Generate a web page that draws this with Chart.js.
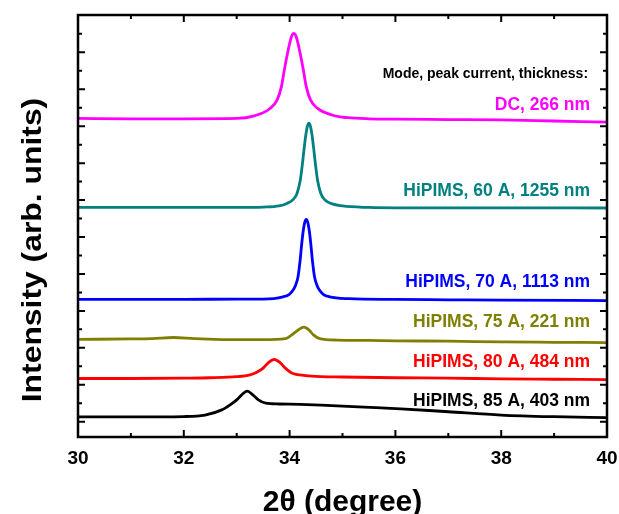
<!DOCTYPE html>
<html>
<head>
    <title>XRD patterns</title>
    <script src="https://cdn.jsdelivr.net/npm/chart.js@4.4.0/dist/chart.umd.min.js"></script>
    <style>
        body { margin: 0; background: #fff; }
    </style>
</head>
<body>
    <canvas id="xrd-chart" width="619" height="514"></canvas>

    <script>
        // 2theta (degree) / intensity (arb. units, curves stacked with offsets)
        var dcX = [30, 31, 32, 33, 33.33, 33.63, 33.765, 33.845, 33.9, 33.96, 34.02, 34.05, 34.08, 34.11, 34.14, 34.2, 34.26, 34.315, 34.395, 34.53, 34.83, 35.1, 35.5, 36, 37, 38, 39, 40];
        var dcY = [8.21, 8.20, 8.20, 8.21, 8.28, 8.48, 8.71, 9.07, 9.52, 9.97, 10.35, 10.47, 10.51, 10.47, 10.35, 9.97, 9.52, 9.07, 8.71, 8.48, 8.29, 8.23, 8.20, 8.19, 8.18, 8.17, 8.14, 8.11];

        var h60X = [30, 32, 33, 33.5, 33.8, 33.95, 34.07, 34.14, 34.2, 34.24, 34.275, 34.305, 34.335, 34.365, 34.395, 34.425, 34.455, 34.49, 34.53, 34.59, 34.67, 34.78, 35.0, 35.5, 36, 38, 40];
        var h60Y = [5.80, 5.80, 5.80, 5.81, 5.84, 5.91, 6.02, 6.18, 6.52, 6.95, 7.40, 7.75, 7.99, 8.08, 7.99, 7.75, 7.40, 6.95, 6.52, 6.18, 6.00, 5.91, 5.84, 5.80, 5.79, 5.79, 5.785];

        var h70X = [30, 32, 33, 33.5, 33.875, 33.995, 34.07, 34.115, 34.16, 34.2, 34.23, 34.26, 34.285, 34.315, 34.345, 34.37, 34.4, 34.43, 34.47, 34.515, 34.56, 34.635, 34.755, 35.115, 36, 37, 38, 40];
        var h70Y = [3.31, 3.31, 3.32, 3.32, 3.38, 3.45, 3.57, 3.70, 3.93, 4.38, 4.83, 5.19, 5.39, 5.48, 5.39, 5.19, 4.83, 4.38, 3.93, 3.70, 3.57, 3.45, 3.38, 3.33, 3.31, 3.30, 3.29, 3.28];

        var h75X = [30, 31, 31.4, 31.8, 32.2, 32.6, 33, 33.5, 33.92, 34.04, 34.16, 34.27, 34.37, 34.45, 34.57, 34.9, 35.5, 36, 37, 38, 39, 40];
        var h75Y = [2.23, 2.24, 2.25, 2.28, 2.25, 2.23, 2.22, 2.22, 2.25, 2.35, 2.48, 2.56, 2.48, 2.35, 2.25, 2.21, 2.20, 2.19, 2.18, 2.16, 2.15, 2.14];

        var h80X = [30, 31, 32, 32.5, 33, 33.25, 33.38, 33.5, 33.6, 33.71, 33.82, 33.92, 34.04, 34.3, 34.6, 35, 36, 37, 38, 39, 40];
        var h80Y = [1.17, 1.17, 1.18, 1.19, 1.22, 1.27, 1.34, 1.45, 1.60, 1.69, 1.60, 1.45, 1.32, 1.25, 1.22, 1.21, 1.19, 1.18, 1.16, 1.15, 1.14];

        var h85X = [30, 31, 32, 32.4, 32.72, 32.87, 33.0, 33.09, 33.2, 33.31, 33.41, 33.55, 33.8, 34.2, 34.6, 35.3, 36.1, 37, 38, 39, 40];
        var h85Y = [0.13, 0.13, 0.14, 0.18, 0.32, 0.45, 0.59, 0.72, 0.83, 0.72, 0.59, 0.50, 0.48, 0.47, 0.45, 0.40, 0.35, 0.27, 0.18, 0.135, 0.11];

        var seriesNames = ['DC, 266 nm', 'HiPIMS, 60 A, 1255 nm', 'HiPIMS, 70 A, 1113 nm', 'HiPIMS, 75 A, 221 nm', 'HiPIMS, 80 A, 484 nm', 'HiPIMS, 85 A, 403 nm'];
        var seriesColors = ['#ff00ff', '#008080', '#0000ff', '#808000', '#ff0000', '#000000'];
        var seriesX = [dcX, h60X, h70X, h75X, h80X, h85X];
        var seriesY = [dcY, h60Y, h70Y, h75Y, h80Y, h85Y];

        var xMajor = [30, 32, 34, 36, 38, 40];
        var xMinor = [31, 33, 35, 37, 39];
        var yMajor = [0, 1, 2, 3, 4, 5, 6, 7, 8, 9, 10];
        var yMinor = [0.5, 1.5, 2.5, 3.5, 4.5, 5.5, 6.5, 7.5, 8.5, 9.5, 10.5];

        // where the curve labels sit (right aligned)
        var labelHeader = 'Mode, peak current, thickness:';
        var labelX = 39.68;
        var headerY = 9.30;
        var labelY = [8.44, 6.10, 3.655, 2.572, 1.473, 0.425];
        var yTitle = 'Intensity (arb. units)';

        var FONT = '"Liberation Sans", Arial, Helvetica, sans-serif';
        Chart.defaults.font.family = FONT;
        Chart.defaults.color = '#000';

        function toPoints(xs, ys) {
            var pts = [];
            for (var i = 0; i < xs.length; i++) pts.push({ x: xs[i], y: ys[i] });
            return pts;
        }

        var datasets = seriesNames.map(function(name, i) {
            return {
                label: name,
                data: toPoints(seriesX[i], seriesY[i]),
                borderColor: seriesColors[i],
                borderWidth: 2.8,
                pointRadius: 0,
                cubicInterpolationMode: 'monotone',
                fill: false
            };
        });

        // box frame, inward ticks on all four sides, curve labels and the y title
        var frameAndLabels = {
            id: 'frameAndLabels',
            afterDatasetsDraw: function(chart) {
                var ctx = chart.ctx, a = chart.chartArea;
                var xs = chart.scales.x, ys = chart.scales.y;
                ctx.save();
                ctx.strokeStyle = '#000';
                ctx.lineWidth = 2.5;
                ctx.strokeRect(a.left, a.top, a.right - a.left, a.bottom - a.top);

                ctx.lineWidth = 2;
                ctx.beginPath();
                function xTick(v, len) {
                    var px = xs.getPixelForValue(v);
                    ctx.moveTo(px, a.bottom); ctx.lineTo(px, a.bottom - len);
                    ctx.moveTo(px, a.top); ctx.lineTo(px, a.top + len);
                }
                function yTick(v, len) {
                    var py = ys.getPixelForValue(v);
                    ctx.moveTo(a.left, py); ctx.lineTo(a.left + len, py);
                    ctx.moveTo(a.right, py); ctx.lineTo(a.right - len, py);
                }
                xMajor.forEach(function(v) { xTick(v, 7); });
                xMinor.forEach(function(v) { xTick(v, 4); });
                yMajor.forEach(function(v) { yTick(v, 7); });
                yMinor.forEach(function(v) { yTick(v, 4); });
                ctx.stroke();

                ctx.textAlign = 'right';
                ctx.textBaseline = 'alphabetic';
                var lx = xs.getPixelForValue(labelX);
                ctx.fillStyle = '#000';
                ctx.font = 'bold 14px ' + FONT;
                ctx.fillText(labelHeader, lx - 2, ys.getPixelForValue(headerY));
                ctx.font = 'bold 17.5px ' + FONT;
                seriesNames.forEach(function(name, i) {
                    ctx.fillStyle = seriesColors[i];
                    ctx.fillText(name, lx, ys.getPixelForValue(labelY[i]));
                });

                // rotated y title, a bit below the axis middle as in the original
                ctx.fillStyle = '#000';
                ctx.translate(34, (a.top + a.bottom) / 2 + 24);
                ctx.rotate(-Math.PI / 2);
                ctx.scale(1.18, 1);
                ctx.textAlign = 'center';
                ctx.textBaseline = 'middle';
                ctx.font = 'bold 27px ' + FONT;
                ctx.fillText(yTitle, 0, 0);
                ctx.restore();
            }
        };

        var ctx = document.getElementById('xrd-chart').getContext('2d');
        var xrdChart = new Chart(ctx, {
            type: 'line',
            data: { datasets: datasets },
            options: {
                responsive: false,
                animation: false,
                layout: { padding: { top: 15, right: 12, left: 0, bottom: 0 } },
                scales: {
                    x: {
                        type: 'linear',
                        min: 30,
                        max: 40,
                        grid: { display: false },
                        border: { display: false },
                        afterBuildTicks: function(scale) {
                            scale.ticks = xMajor.map(function(v) { return { value: v }; });
                        },
                        afterFit: function(scale) {
                            scale.height = 77;
                            scale.paddingLeft = 0;
                            scale.paddingRight = 0;
                        },
                        ticks: {
                            font: { size: 19, weight: 'bold' },
                            color: '#000',
                            padding: 2,
                            maxRotation: 0
                        },
                        title: {
                            display: true,
                            text: '2θ (degree)',
                            font: { size: 30, weight: 'bold', lineHeight: 0.75 },
                            padding: 0,
                            color: '#000'
                        }
                    },
                    y: {
                        min: -0.414,
                        max: 11.01,
                        grid: { display: false },
                        border: { display: false },
                        ticks: { display: false },
                        afterFit: function(scale) { scale.width = 78; },
                        title: { display: false }
                    }
                },
                plugins: {
                    legend: { display: false },
                    tooltip: { enabled: false }
                }
            },
            plugins: [frameAndLabels]
        });
    </script>
</body>
</html>
